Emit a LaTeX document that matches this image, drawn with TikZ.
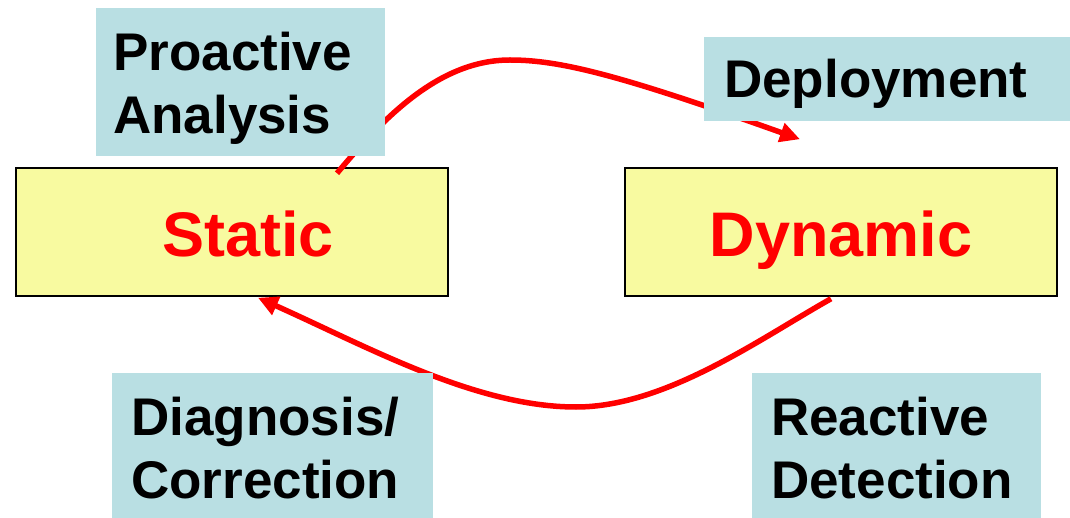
\documentclass[tikz,border=0pt]{standalone}
\usepackage{fontspec}
\setmainfont{Liberation Sans}
\usetikzlibrary{arrows.meta}

\definecolor{stateyellow}{HTML}{F8FAA0}
\definecolor{labelblue}{HTML}{B9DFE3}

\tikzset{
    statebox/.style={draw=black, line width=1.5pt, fill=stateyellow,
        minimum width=432pt, minimum height=128pt, inner sep=0pt},
    labelbox/.style={fill=labelblue, inner sep=0pt},
    statetext/.style={text=red, font=\fontsize{63}{75}\selectfont\bfseries,
        inner sep=0pt, anchor=base},
    labeltext/.style={font=\fontsize{53}{63}\selectfont\bfseries,
        inner sep=0pt, anchor=base west, align=left},
    cyclearrow/.style={red, line width=5.5pt, -{Triangle[length=20pt,width=19pt]}}
}

\begin{document}
\begin{tikzpicture}[x=1pt, y=-1pt]
        \useasboundingbox (0,0) rectangle (1070,518);

        % Draw the two states
        \node[statebox] (st) at (232,232) {};
        \node[statetext] (st-text) at (248,257) {Static};

        \node[statebox] (dy) at (841,232) {};
        \node[statetext] (dy-text) at (841,257) {Dynamic};

        % Draw the arrows between the states
        \coordinate (top-peak) at (510,60);
        \coordinate (bottom-dip) at (576,407);

        \draw[cyclearrow] ([xshift=105pt,yshift=-6pt]st.north)
            .. controls (385,116) and (440,60) .. (top-peak)
            .. controls (560,60) and (620,75) .. ([xshift=-41pt,yshift=28pt]dy.north);
        \draw[cyclearrow] ([xshift=-10pt,yshift=-2pt]dy.south)
            .. controls (761,338) and (666,407) .. (bottom-dip)
            .. controls (476,407) and (368,347) .. ([xshift=26pt,yshift=-1pt]st.south);

        % Draw the labels on top of the arrows (base is the last line)
        \node[labelbox, minimum width=289pt, minimum height=148pt] (pa) at (240.5,82) {};
        \node[labeltext] (pa-text) at (113,134) {Proactive\\Analysis};

        \node[labelbox, minimum width=366pt, minimum height=84pt] (dp) at (887,79) {};
        \node[labeltext] (dp-text) at (724,98) {Deployment};

        \node[labelbox, minimum width=321pt, minimum height=145pt] (dc) at (272.5,445.5) {};
        \node[labeltext] (dc-text) at (131,498) {Diagnosis/\\Correction};

        \node[labelbox, minimum width=289pt, minimum height=145pt] (rd) at (896.5,445.5) {};
        \node[labeltext] (rd-text) at (771,498) {Reactive\\Detection};
    \end{tikzpicture}
\end{document}
